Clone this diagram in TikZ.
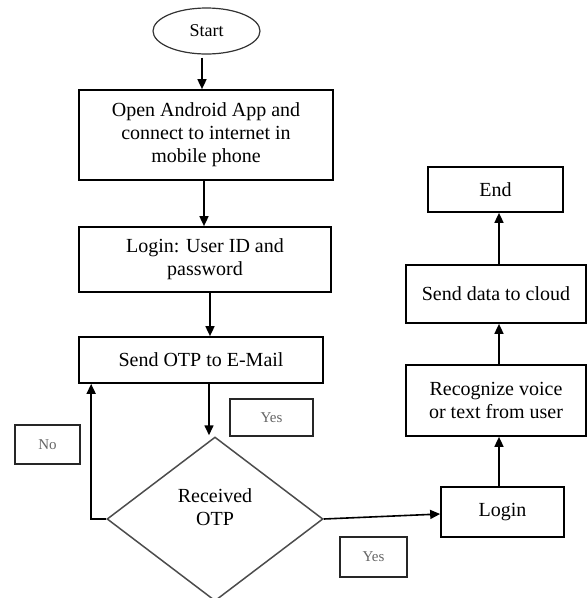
\documentclass[tikz,border=0pt]{standalone}
\usepackage{fontspec}
\setmainfont{Liberation Serif}
\usetikzlibrary{arrows.meta,shapes.geometric}
\tikzset{
  stepbox/.style={draw=black, line width=1.7pt, rectangle, inner sep=0pt,
    align=center, font=\fontsize{20}{23}\selectfont},
  tagbox/.style={draw=black!85, line width=1.5pt, rectangle, inner sep=0pt,
    text=black!60, font=\fontsize{15}{17}\selectfont},
  arr/.style={draw=black, line width=1.6pt, -{Triangle[length=10pt,width=9pt]}},
}
\begin{document}
\begin{tikzpicture}[x=1pt, y=-1pt]
  \useasboundingbox (0,0) rectangle (587,598);
  \clip (0,0) rectangle (587,598);

  % terminal
  \node[draw=black!80, line width=1.2pt, ellipse, minimum width=107pt, minimum height=46pt,
        inner sep=0pt, font=\fontsize{18}{20}\selectfont] (start) at (206.5,31) {Start};

  % left column
  \node[stepbox, minimum width=254pt, minimum height=90pt] (open) at (206,135)
    {Open Android App and\\connect to internet in\\mobile phone};
  \node[stepbox, minimum width=252pt, minimum height=65pt] (creds) at (205,259.5)
    {Login: User ID and\\password};
  \node[stepbox, minimum width=244pt, minimum height=46pt] (otp) at (201,360)
    {Send OTP to E-Mail};

  % decision
  \node[draw=black!70, line width=1.5pt, diamond, minimum width=216pt, minimum height=164pt,
        inner sep=0pt] (check) at (215,519) {};
  \node[align=center, font=\fontsize{20}{23}\selectfont, inner sep=0pt] (checktext)
    at (215,507) {Received\\OTP};

  % branch tags
  \node[tagbox, minimum width=83pt, minimum height=37pt] (yesA) at (271.5,417.5) {Yes};
  \node[tagbox, minimum width=65pt, minimum height=39pt] (noA) at (47.5,444.5) {No};
  \node[tagbox, minimum width=67pt, minimum height=40pt] (yesB) at (373.5,557) {Yes};

  % right column
  \node[stepbox, minimum width=123pt, minimum height=50pt] (login) at (502.5,512) {Login};
  \node[stepbox, minimum width=180pt, minimum height=71pt] (recog) at (496,400.5)
    {Recognize voice\\or text from user};
  \node[stepbox, minimum width=180pt, minimum height=58pt] (cloud) at (496,294)
    {Send data to cloud};
  \node[stepbox, minimum width=135pt, minimum height=45pt] (end) at (495.5,189.5) {End};

  % connectors
  \draw[arr] ([xshift=-4.5pt,yshift=-3pt]start.south) -- ([xshift=-4.5pt]start.south |- open.north);
  \draw[arr] ([xshift=-2pt]open.south) -- ([xshift=-2pt]open.south |- creds.north);
  \draw[arr] ([xshift=5pt]creds.south) -- ([xshift=5pt]creds.south |- otp.north);
  \draw[arr] ([xshift=8pt]otp.south) -- ([xshift=8pt,yshift=1pt]otp.south |- check.north);
  \draw[arr] (check.west) -| ([xshift=13pt]otp.south west);
  \draw[arr] (check.east) -- ([yshift=-2pt]login.west);
  \draw[arr] ([xshift=-3.5pt]login.north) -- ([xshift=-3.5pt]login.north |- recog.south);
  \draw[arr] ([xshift=3pt]recog.north) -- ([xshift=3pt]recog.north |- cloud.south);
  \draw[arr] ([xshift=3pt]cloud.north) -- ([xshift=3pt]cloud.north |- end.south);
\end{tikzpicture}
\end{document}
